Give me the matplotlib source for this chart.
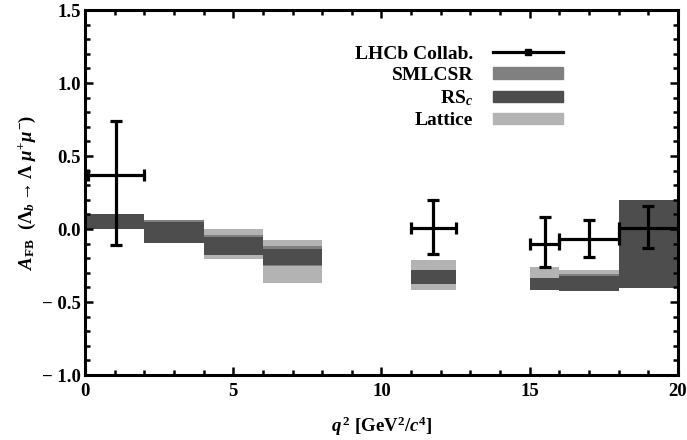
import matplotlib
matplotlib.use("Agg")
import matplotlib.pyplot as plt
from matplotlib.patches import Patch
from matplotlib.lines import Line2D
from matplotlib.ticker import MultipleLocator

plt.rcParams["font.family"] = ["Liberation Serif", "DejaVu Serif"]
plt.rcParams["font.weight"] = "bold"
plt.rcParams["axes.labelweight"] = "bold"
plt.rcParams["mathtext.fontset"] = "custom"
plt.rcParams["mathtext.rm"] = "Liberation Serif:bold"
plt.rcParams["mathtext.it"] = "Liberation Serif:bold:italic"
plt.rcParams["mathtext.bf"] = "Liberation Serif:bold"

# q^2 bins of the theory predictions
bin_lo = [0, 2, 4, 6, 11, 15, 16, 18]
bin_hi = [2, 4, 6, 8, 12.5, 16, 18, 20]

# lattice band (light)
lat_lo = [0.0, -0.09, -0.208, -0.372, -0.418, -0.41, -0.41, -0.38]
lat_hi = [0.10, 0.04, 0.0, -0.075, -0.209, -0.26, -0.279, 0.10]

# SMLCSR band (mid grey)
sm_lo = [0.0, -0.094, -0.18, -0.25, -0.38, -0.418, -0.425, -0.40]
sm_hi = [0.10, 0.062, -0.04, -0.116, -0.284, -0.337, -0.31, 0.15]

# RS_c band (dark)
rs_lo = [0.0, -0.094, -0.178, -0.246, -0.379, -0.418, -0.425, -0.407]
rs_hi = [0.10, 0.048, -0.057, -0.139, -0.284, -0.337, -0.325, 0.20]

# LHCb measurement
lhcb_lo = [0.1, 11, 15, 16, 18]
lhcb_hi = [2, 12.5, 16, 18, 20]
lhcb_val = [0.37, 0.01, -0.10, -0.07, 0.01]
lhcb_up = [0.37, 0.19, 0.18, 0.13, 0.15]
lhcb_dn = [0.48, 0.18, 0.16, 0.12, 0.14]

c_lat = "#b3b3b3"
c_sm = "#808080"
c_rs = "#4d4d4d"

fig = plt.figure(figsize=(6.87, 4.4), dpi=100)
ax = fig.add_axes([0.1237, 0.1477, 0.8632, 0.8295])

for lo, hi, blo, bhi in zip(bin_lo, bin_hi, lat_lo, lat_hi):
    ax.fill_between([lo, hi], blo, bhi, color=c_lat, lw=0)
for lo, hi, blo, bhi in zip(bin_lo, bin_hi, sm_lo, sm_hi):
    ax.fill_between([lo, hi], blo, bhi, color=c_sm, lw=0)
for lo, hi, blo, bhi in zip(bin_lo, bin_hi, rs_lo, rs_hi):
    ax.fill_between([lo, hi], blo, bhi, color=c_rs, lw=0)

xc = [(a + b) / 2 for a, b in zip(lhcb_lo, lhcb_hi)]
xerr = [[c - a for c, a in zip(xc, lhcb_lo)], [b - c for c, b in zip(xc, lhcb_hi)]]
ax.errorbar(xc, lhcb_val, xerr=xerr, yerr=[lhcb_dn, lhcb_up], fmt="none",
            ecolor="black", elinewidth=2.3, capsize=4.5, capthick=2.3, zorder=5)

ax.set_xlim(0, 20)
ax.set_ylim(-1.0, 1.5)
ax.xaxis.set_major_locator(MultipleLocator(5))
ax.xaxis.set_minor_locator(MultipleLocator(1))
ax.yaxis.set_major_locator(MultipleLocator(0.5))
ax.yaxis.set_minor_locator(MultipleLocator(0.1))
ax.set_yticks([-1.0, -0.5, 0.0, 0.5, 1.0, 1.5])
ax.set_yticklabels(["\u2212 1.0", "\u2212 0.5", "0.0", "0.5", "1.0", "1.5"])
ax.tick_params(which="both", direction="in", top=True, right=True,
               labelsize=13.5, width=1.8)
ax.tick_params(axis="x", pad=6)
ax.tick_params(axis="y", pad=3)
ax.tick_params(which="major", length=6)
ax.tick_params(which="minor", length=3.5)
for s in ax.spines.values():
    s.set_linewidth(2.2)

ax.set_xlabel(r"$q^{\,2}$ [GeV$^2$/$c^4$]", fontsize=13.5, labelpad=10)
ax.set_ylabel(r"$A_{\mathrm{FB}}$  ($\Lambda_b \rightarrow \Lambda\ \mu^{+}\mu^{-}$)",
              fontsize=13.5, labelpad=3)

handles = [
    Line2D([0], [0], color="black", lw=2.3, marker="s", markersize=5),
    Patch(color=c_sm),
    Patch(color=c_rs),
    Patch(color=c_lat),
]
labels = ["LHCb Collab.", "SMLCSR", r"RS$_c$", "Lattice"]
ax.legend(handles, labels, loc="upper right", bbox_to_anchor=(0.835, 0.95),
          frameon=False, markerfirst=False, fontsize=14, handlelength=3.6,
          handleheight=0.55, labelspacing=0.22, handletextpad=1.0)

fig.savefig("out.png", dpi=100)
